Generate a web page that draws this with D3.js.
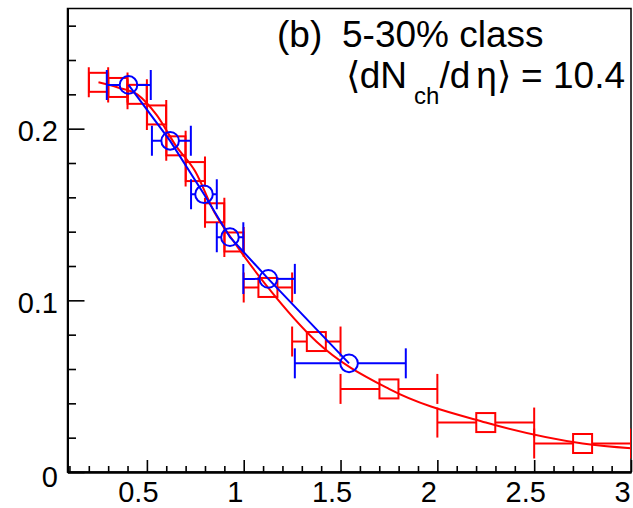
<!DOCTYPE html>
<html><head><meta charset="utf-8">
<script src="https://cdn.jsdelivr.net/npm/d3@7"></script>
<style>html,body{margin:0;padding:0;background:#fff;overflow:hidden}</style>
</head><body>
<svg id="chart" width="633" height="508"></svg>
<script>
// ---- data ----
const redX     = [0.25,0.35,0.45,0.55,0.65,0.75,0.85,0.95,1.125,1.375,1.75,2.25,2.75];
const redXLow  = [0.2,0.3,0.4,0.5,0.6,0.7,0.8,0.9,1.0,1.25,1.5,2.0,2.5];
const redXHigh = [0.3,0.4,0.5,0.6,0.7,0.8,0.9,1.0,1.25,1.5,2.0,2.5,3.0];
const redY     = [0.227,0.224,0.220,0.208,0.190,0.175,0.151,0.134,0.1075,0.076,0.0484,0.0288,0.0166];
const redCurveTailX = [3.25];
const redCurveTailY = [0.0125];
const blueX     = [0.405,0.62,0.795,0.929,1.127,1.544];
const blueXLow  = [0.293,0.526,0.728,0.861,0.998,1.264];
const blueXHigh = [0.52,0.727,0.861,0.998,1.264,1.837];
const blueY     = [0.2255,0.1929,0.1618,0.1368,0.1125,0.0633];
const xTicks = [0.5,1,1.5,2,2.5,3];
const xTickLabels = ["0.5","1","1.5","2","2.5","3"];
const yTicks = [0,0.1,0.2];
const yTickLabels = ["0","0.1","0.2"];
const xDomain = [0.09,3];
const yDomain = [0,0.27];
const titleLine1a = "(b)";
const titleLine1b = "5-30% class";

// ---- layout ----
const L=67.5, R=631, T=8.5, B=472;
const FONT = "'Liberation Sans', Arial, Helvetica, sans-serif";
const svg = d3.select("#chart");
const x = d3.scaleLinear().domain(xDomain).range([L,R]);
const y = d3.scaleLinear().domain(yDomain).range([B,T]);

svg.append("defs").append("clipPath").attr("id","clip")
  .append("rect").attr("x",L).attr("y",T).attr("width",R-L).attr("height",B-T);

// frame
svg.append("rect").attr("x",L).attr("y",T).attr("width",R-L).attr("height",B-T)
  .attr("fill","none").attr("stroke","#000").attr("stroke-width",1.5);

// minor ticks
const xMinor = d3.range(1,31).map(i=>i/10).filter(v=>v>=xDomain[0] && !xTicks.some(t=>Math.abs(t-v)<1e-6));
const yMinor = d3.range(0,14).map(i=>i*0.02).filter(v=>v<=yDomain[1] && !yTicks.some(t=>Math.abs(t-v)<1e-6));

const xAxisMinor = d3.axisBottom(x).tickValues(xMinor).tickSize(-6).tickSizeOuter(0).tickFormat("");
const xAxis = d3.axisBottom(x).tickValues(xTicks).tickSize(-12).tickSizeOuter(0).tickPadding(9.5)
  .tickFormat((d,i)=>xTickLabels[i]);
const yAxisMinor = d3.axisLeft(y).tickValues(yMinor).tickSize(-8.5).tickSizeOuter(0).tickFormat("");
const yAxis = d3.axisLeft(y).tickValues(yTicks).tickSize(-17).tickSizeOuter(0).tickPadding(9.5)
  .tickFormat((d,i)=>yTickLabels[i]);

function styleAxis(g){
  g.select(".domain").attr("stroke","#000").attr("stroke-width",2);
  g.selectAll(".tick line").attr("stroke","#000").attr("stroke-width",1.6);
  g.selectAll("text").attr("fill","#000").style("font-family",FONT).style("font-size","29px");
}
svg.append("g").attr("transform",`translate(0,${B})`).call(xAxisMinor).call(styleAxis);
svg.append("g").attr("transform",`translate(0,${B})`).call(xAxis).call(styleAxis)
  .selectAll("text").attr("dx",-9);
svg.append("g").attr("transform",`translate(${L},0)`).call(yAxisMinor).call(styleAxis);
svg.append("g").attr("transform",`translate(${L},0)`).call(yAxis).call(styleAxis)
  .selectAll("text").attr("dy",(d)=> d===0 ? "0.5em" : "0.42em");

const plot = svg.append("g").attr("clip-path","url(#clip)");
const CAP = 15, RAD = 8.8, SQ = 9.5;

function drawSeries(xs, lo, hi, ys, color, kind, half, lineData, curve){
  const g = plot.append("g");
  g.append("path").datum(lineData)
    .attr("d", d3.line().x(d=>x(d[0])).y(d=>y(d[1])).curve(curve))
    .attr("fill","none").attr("stroke",color).attr("stroke-width",2);
  xs.forEach((v,i)=>{
    const cx=x(v), cy=y(ys[i]), xl=x(lo[i]), xh=x(hi[i]);
    if (cx-half > xl) g.append("line").attr("x1",xl).attr("x2",cx-half).attr("y1",cy).attr("y2",cy);
    if (cx+half < xh) g.append("line").attr("x1",cx+half).attr("x2",xh).attr("y1",cy).attr("y2",cy);
    g.append("line").attr("x1",xl).attr("x2",xl).attr("y1",cy-CAP).attr("y2",cy+CAP);
    g.append("line").attr("x1",xh).attr("x2",xh).attr("y1",cy-CAP).attr("y2",cy+CAP);
    if (kind==="square")
      g.append("rect").attr("x",cx-SQ).attr("y",cy-SQ).attr("width",2*SQ).attr("height",2*SQ)
        .attr("fill","none").attr("stroke",color).attr("stroke-width",2);
    else
      g.append("circle").attr("cx",cx).attr("cy",cy).attr("r",RAD)
        .attr("fill","none").attr("stroke",color).attr("stroke-width",2);
  });
  g.selectAll("line").attr("stroke",color).attr("stroke-width",2);
}
const redLine = redX.map((v,i)=>[v,redY[i]]).concat(redCurveTailX.map((v,i)=>[v,redCurveTailY[i]]));
const blueLine = blueX.map((v,i)=>[v,blueY[i]]);
drawSeries(redX, redXLow, redXHigh, redY, "#ff0000", "square", SQ, redLine, d3.curveMonotoneX);
drawSeries(blueX, blueXLow, blueXHigh, blueY, "#0000ff", "circle", RAD, blueLine, d3.curveLinear);

// annotation
const t1 = svg.append("text").attr("y",47).style("font-family",FONT).style("font-size","37px").attr("fill","#000");
t1.append("tspan").attr("x",277).text(titleLine1a);
t1.append("tspan").attr("x",342).text(titleLine1b);
const t2 = svg.append("text").attr("x",625).attr("y",88).attr("text-anchor","end")
  .style("font-family",FONT).style("font-size","37px").attr("fill","#000");
t2.append("tspan").text("\u27E8dN");
t2.append("tspan").attr("dx",7).attr("dy",16).style("font-size","24px").text("ch");
t2.append("tspan").attr("dy",-16).text("/d");
t2.append("tspan").attr("dx",6).text("\u03B7\u27E9 = 10.4");
</script>
</body></html>
